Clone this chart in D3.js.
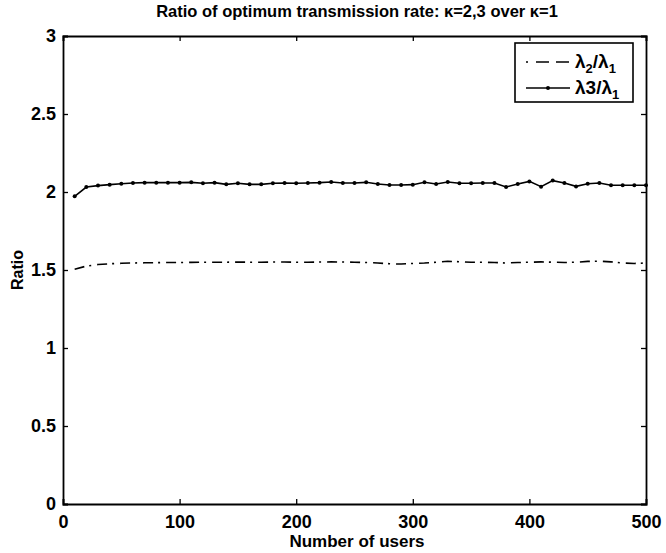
<!DOCTYPE html>
<html>
<head>
<meta charset="utf-8">
<script src="https://cdn.jsdelivr.net/npm/d3@7"></script>
<style>
  html, body { margin: 0; padding: 0; background: #fff; }
  svg { display: block; font-family: "Liberation Sans", Arial, Helvetica, sans-serif; font-weight: bold; }
</style>
</head>
<body>
<svg id="chart" width="666" height="553"></svg>
<script>
// ---- data ----
const users = d3.range(10, 501, 10);
const ratio3 = [1.972, 2.032, 2.041, 2.047, 2.053, 2.058, 2.060, 2.060, 2.060, 2.060,
                2.062, 2.056, 2.060, 2.049, 2.056, 2.049, 2.049, 2.056, 2.058, 2.056,
                2.058, 2.060, 2.064, 2.058, 2.058, 2.062, 2.051, 2.045, 2.045, 2.047,
                2.062, 2.051, 2.064, 2.056, 2.056, 2.058, 2.058, 2.032, 2.051, 2.068,
                2.034, 2.073, 2.058, 2.036, 2.053, 2.058, 2.043, 2.043, 2.043, 2.043];
const ratio2 = [1.505, 1.525, 1.535, 1.540, 1.543, 1.545, 1.546, 1.547, 1.548, 1.548,
                1.549, 1.550, 1.550, 1.550, 1.551, 1.550, 1.550, 1.551, 1.551, 1.550,
                1.550, 1.551, 1.552, 1.551, 1.550, 1.548, 1.545, 1.540, 1.538, 1.542,
                1.545, 1.550, 1.556, 1.553, 1.550, 1.550, 1.548, 1.545, 1.548, 1.550,
                1.552, 1.550, 1.548, 1.550, 1.555, 1.557, 1.552, 1.545, 1.542, 1.545];
const xTicks = [0, 100, 200, 300, 400, 500];
const yTicks = [0, 0.5, 1, 1.5, 2, 2.5, 3];
const titleText = "Ratio of optimum transmission rate: \u03BA=2,3 over \u03BA=1";
const xLabel = "Number of users";
const yLabel = "Ratio";

// ---- layout ----
const L = 63, R = 646, T = 36, B = 504;
const svg = d3.select("#chart");
const x = d3.scaleLinear().domain([0, 500]).range([L, R]);
const y = d3.scaleLinear().domain([0, 3]).range([B, T]);

// axes (inward ticks on all sides, MATLAB style)
const tickLen = 5;
const gB = svg.append("g").attr("transform", `translate(0,${B})`)
  .call(d3.axisBottom(x).tickValues(xTicks).tickSize(-tickLen).tickPadding(11).tickFormat(d3.format("d")));
const gT = svg.append("g").attr("transform", `translate(0,${T})`)
  .call(d3.axisTop(x).tickValues(xTicks).tickSize(-tickLen).tickFormat(""));
const gL = svg.append("g").attr("transform", `translate(${L},0)`)
  .call(d3.axisLeft(y).tickValues(yTicks).tickSize(-tickLen).tickPadding(7).tickFormat(d3.format("")));
const gR = svg.append("g").attr("transform", `translate(${R},0)`)
  .call(d3.axisRight(y).tickValues(yTicks).tickSize(-tickLen).tickFormat(""));
[gB, gT, gL, gR].forEach(g => {
  g.select(".domain").attr("stroke", "#000").attr("stroke-width", 1.8);
  g.selectAll(".tick line").attr("stroke", "#000").attr("stroke-width", 1.3);
  g.selectAll(".tick text").attr("fill", "#000").attr("font-size", 18).attr("font-weight", "bold")
    .attr("font-family", "'Liberation Sans', Arial, sans-serif");
});

// lines
const lineGen = d3.line().x((d, i) => x(users[i])).y(d => y(d));
svg.append("path").datum(ratio3).attr("d", lineGen)
  .attr("fill", "none").attr("stroke", "#000").attr("stroke-width", 1.6);
svg.append("g").selectAll("circle").data(ratio3).join("circle")
  .attr("cx", (d, i) => x(users[i])).attr("cy", d => y(d)).attr("r", 2).attr("fill", "#000");

svg.append("path").datum(ratio2).attr("d", lineGen)
  .attr("fill", "none").attr("stroke", "#000").attr("stroke-width", 1.6)
  .attr("stroke-dasharray", "10,5,2,6");

// title and labels
svg.append("text").attr("x", 357).attr("y", 17).attr("text-anchor", "middle")
  .attr("font-size", 16.5).text(titleText);
svg.append("text").attr("x", 357).attr("y", 547).attr("text-anchor", "middle")
  .attr("font-size", 17).text(xLabel);
svg.append("text").attr("transform", `translate(23,${(T + B) / 2}) rotate(-90)`)
  .attr("text-anchor", "middle").attr("font-size", 16).text(yLabel);

// legend
const lg = svg.append("g");
lg.append("rect").attr("x", 515).attr("y", 43).attr("width", 118).attr("height", 59)
  .attr("fill", "#fff").attr("stroke", "#000").attr("stroke-width", 1.6);
const r1 = 62, r2 = 88;
lg.append("line").attr("x1", 526).attr("x2", 569).attr("y1", r1).attr("y2", r1)
  .attr("stroke", "#000").attr("stroke-width", 1.6).attr("stroke-dasharray", "2,8,13,7,13,10");
lg.append("line").attr("x1", 526).attr("x2", 570).attr("y1", r2).attr("y2", r2)
  .attr("stroke", "#000").attr("stroke-width", 1.6);
lg.append("circle").attr("cx", 548).attr("cy", r2).attr("r", 2).attr("fill", "#000");

function legendText(yy, parts) {
  const t = lg.append("text").attr("x", 575).attr("y", yy + 6).attr("font-size", 19);
  parts.forEach(p => {
    const s = t.append("tspan").text(p[0]);
    if (p[1]) s.attr("font-size", 13).attr("dy", 5);
    else if (p[2]) s.attr("dy", -5);
  });
}
legendText(r1, [["\u03BB"], ["2", true], ["/\u03BB", false, true], ["1", true]]);
legendText(r2, [["\u03BB3/\u03BB"], ["1", true]]);
</script>
</body>
</html>
